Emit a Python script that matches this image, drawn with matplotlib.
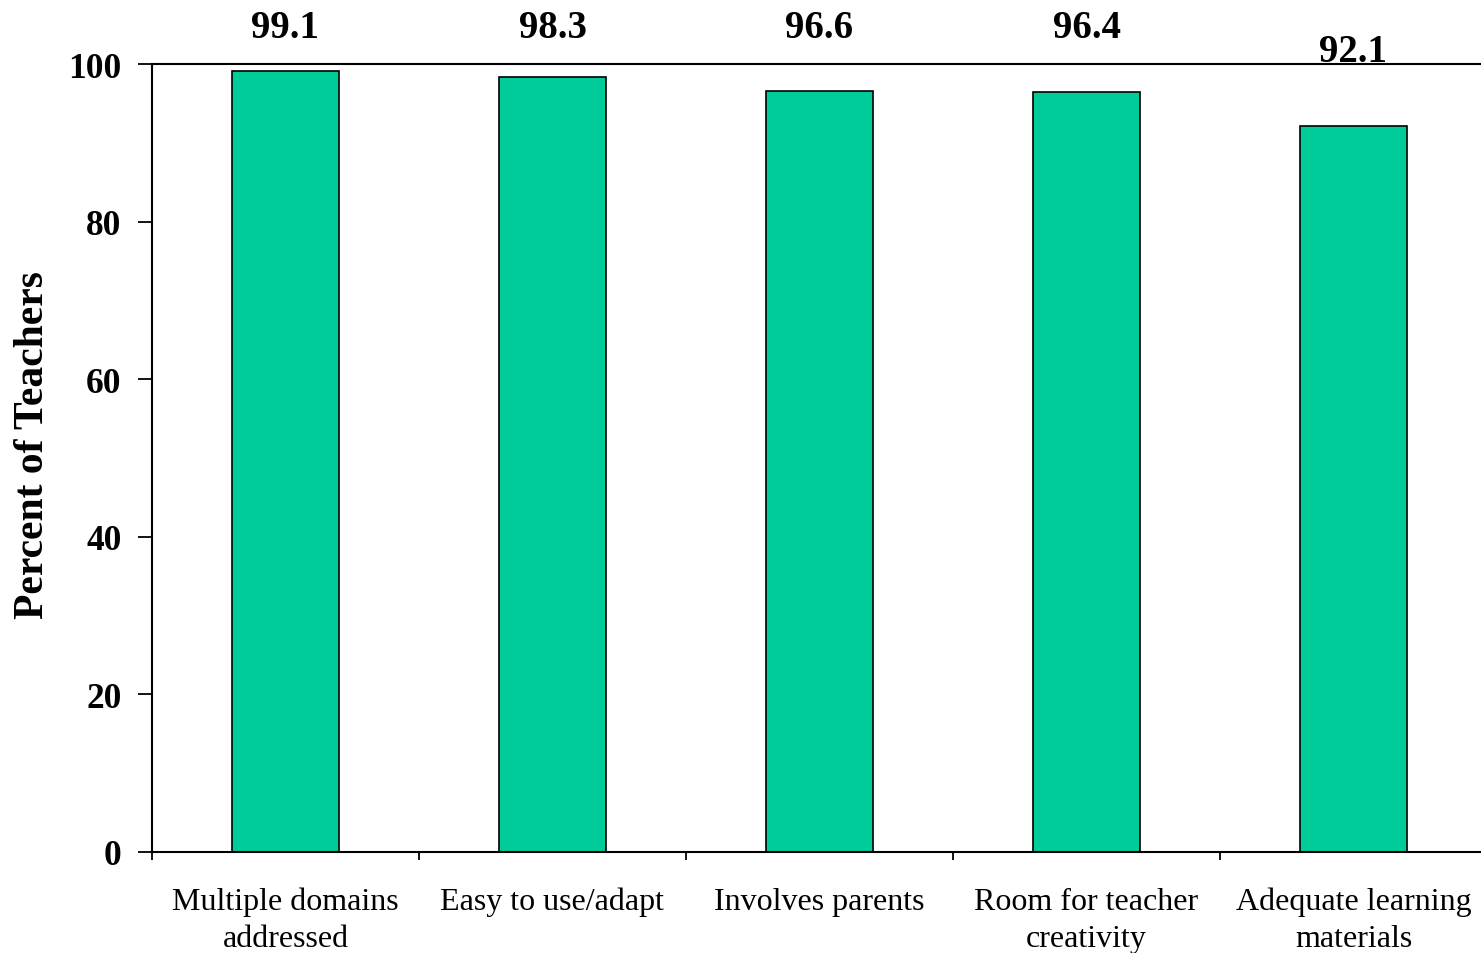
import matplotlib
matplotlib.use("Agg")
import matplotlib.pyplot as plt

categories = ["Multiple domains\naddressed", "Easy to use/adapt", "Involves parents",
              "Room for teacher\ncreativity", "Adequate learning\nmaterials"]
values = [99.1, 98.3, 96.6, 96.4, 92.1]
value_labels = ["99.1", "98.3", "96.6", "96.4", "92.1"]
yticks = [0, 20, 40, 60, 80, 100]

plt.rcParams['font.family'] = ['Liberation Serif', 'DejaVu Serif']

W, H = 1481, 954
fig = plt.figure(figsize=(W / 100, H / 100), dpi=100)
left = 152 / W
right = 1487 / W
bottom = 1 - 853 / H
top = 1 - 65 / H
ax = fig.add_axes([left, bottom, right - left, top - bottom])

x = list(range(len(values)))
ax.bar(x, values, width=0.4, color="#00CC99", edgecolor="black", linewidth=1.2, zorder=2)

ax.set_xlim(-0.5, len(values) - 0.5)
ax.set_ylim(0, 100)
ax.set_yticks(yticks)
ax.set_yticklabels([str(t) for t in yticks], fontsize=25.5, fontweight="bold")
ax.tick_params(axis="y", direction="out", length=10, width=1.3, pad=12)

ax.set_xticks([i - 0.5 for i in range(len(values) + 1)])
ax.set_xticklabels([])
ax.tick_params(axis="x", direction="out", length=6, width=1.3)
ax.set_xticks(x, minor=True)
ax.set_xticklabels(categories, minor=True, fontsize=23, linespacing=1.37)
ax.tick_params(axis="x", which="minor", length=0, pad=25)

for s in ["left", "bottom", "top"]:
    ax.spines[s].set_linewidth(1.5)
ax.spines["right"].set_visible(False)

ax.set_ylabel("Percent of Teachers", fontsize=30, fontweight="bold")
ax.yaxis.set_label_coords(-0.075, 0.518)

label_y = [103.4, 103.4, 103.4, 103.4, 100.4]
for xi, ly, lab in zip(x, label_y, value_labels):
    ax.text(xi, ly, lab, ha="center", va="baseline", fontsize=28, fontweight="bold",
            clip_on=False)

fig.savefig("out.png", dpi=100)
